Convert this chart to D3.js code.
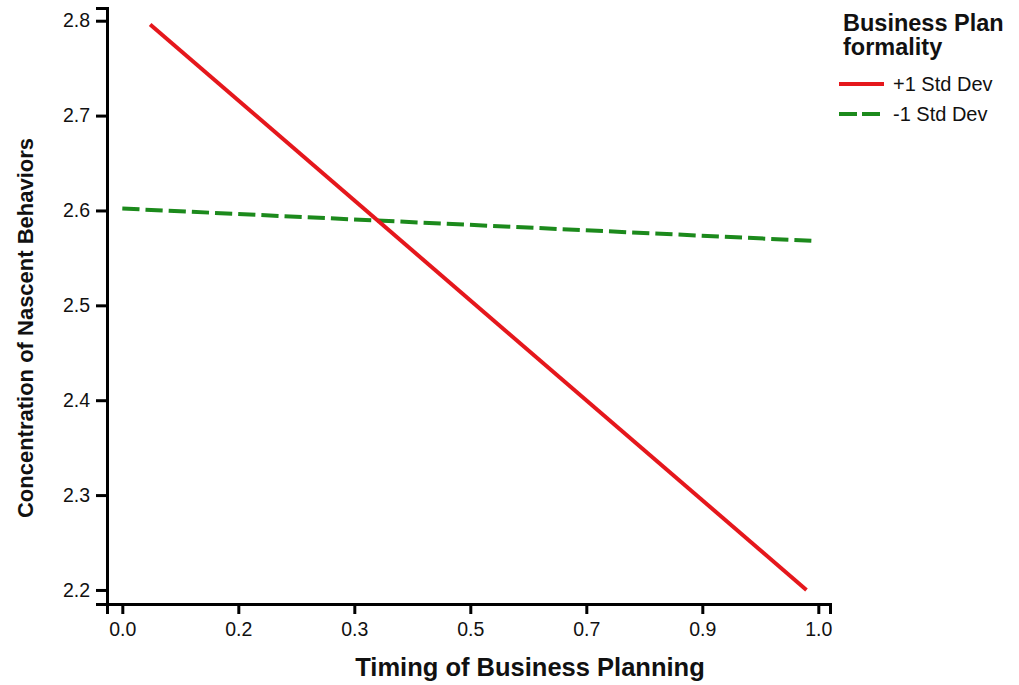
<!DOCTYPE html>
<html>
<head>
<meta charset="utf-8">
<script src="https://cdn.jsdelivr.net/npm/d3@7"></script>
<style>
  html, body { margin: 0; padding: 0; background: #fff; }
  text { font-family: "Liberation Sans", Arial, sans-serif; fill: #111; }
</style>
</head>
<body>
<svg id="chart" width="1019" height="685"></svg>
<script>
// ---- data ----
const xTickValues = [0, 1/6, 2/6, 3/6, 4/6, 5/6, 1];
const xTickLabels = ["0.0", "0.2", "0.3", "0.5", "0.7", "0.9", "1.0"];
const yTickValues = [2.2, 2.3, 2.4, 2.5, 2.6, 2.7, 2.8];
const seriesNames = ["+1 Std Dev", "-1 Std Dev"];
const plusSD = [ {x: 0.04, y: 2.796}, {x: 0.983, y: 2.2} ];
const minusSD = [ {x: 0.0, y: 2.602}, {x: 0.99, y: 2.568} ];
const xTitle = "Timing of Business Planning";
const yTitle = "Concentration of Nascent Behaviors";
const legendTitle = ["Business Plan", "formality"];

// ---- layout ----
const svg = d3.select("#chart");
const mLeft = 107, mRight = 830, mTop = 8, mBottom = 604;
const x = d3.scaleLinear().domain([-0.022, 1.0168]).range([mLeft, mRight]);
const y = d3.scaleLinear().domain([2.1852, 2.8134]).range([mBottom, mTop]);

const red = "#e5171c", green = "#1c8a1c";

// axes
const xAxis = d3.axisBottom(x).tickValues(xTickValues)
  .tickFormat((d, i) => xTickLabels[i]).tickSizeOuter(0).tickSize(10).tickPadding(8);
const gx = svg.append("g").attr("transform", `translate(0,${mBottom})`).call(xAxis);
const yAxis = d3.axisLeft(y).tickValues(yTickValues)
  .tickFormat(d3.format(".1f")).tickSizeOuter(0).tickSize(11).tickPadding(6);
const gy = svg.append("g").attr("transform", `translate(${mLeft},0)`).call(yAxis);

[gx, gy].forEach(g => {
  g.select(".domain").attr("stroke", "#000").attr("stroke-width", 3);
  g.selectAll(".tick line").attr("stroke", "#000").attr("stroke-width", 3);
  g.selectAll(".tick text").attr("fill", "#111")
    .style("font-family", '"Liberation Sans", Arial, sans-serif').style("font-size", "19.5px");
});
gx.selectAll(".tick text").attr("dy", "0.72em");

// lines
const line = d3.line().x(d => x(d.x)).y(d => y(d.y));
svg.append("path").datum(minusSD).attr("d", line)
  .attr("fill", "none").attr("stroke", green).attr("stroke-width", 4)
  .attr("stroke-dasharray", "17.2,6");
svg.append("path").datum(plusSD).attr("d", line)
  .attr("fill", "none").attr("stroke", red).attr("stroke-width", 4);

// axis titles
svg.append("text").attr("x", 530).attr("y", 676).attr("text-anchor", "middle")
  .style("font-weight", "bold").style("font-size", "25.5px").text(xTitle);
svg.append("text").attr("transform", "translate(33,328) rotate(-90)")
  .attr("text-anchor", "middle").style("font-weight", "bold").style("font-size", "22px").text(yTitle);

// legend
const lg = svg.append("g");
lg.selectAll("text.title").data(legendTitle).join("text").attr("class", "title")
  .attr("x", 843).attr("y", (d, i) => 31 + i * 24)
  .style("font-weight", "bold").style("font-size", "23.5px").text(d => d);
const items = [{name: seriesNames[0], color: red, dash: null},
               {name: seriesNames[1], color: green, dash: "18,5"}];
const it = lg.selectAll("g.item").data(items).join("g").attr("class", "item")
  .attr("transform", (d, i) => `translate(839,${84 + i * 30})`);
it.append("line").attr("x1", 0).attr("x2", 45).attr("y1", 0).attr("y2", 0)
  .attr("stroke", d => d.color).attr("stroke-width", 4).attr("stroke-dasharray", d => d.dash);
it.append("text").attr("x", 54).attr("y", 0).attr("dy", "0.35em")
  .style("font-size", "20px").text(d => d.name);
</script>
</body>
</html>
